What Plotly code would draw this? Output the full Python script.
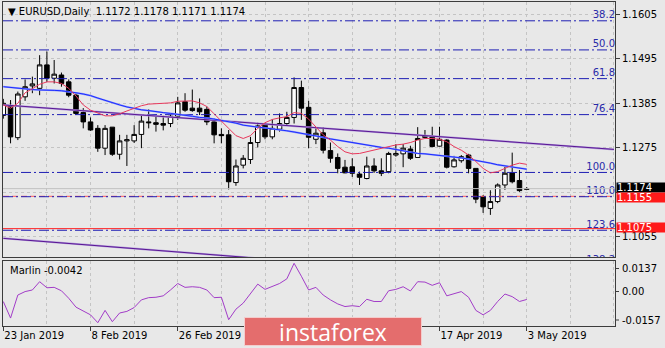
import plotly.graph_objects as go

# ---------------- data ----------------
# EURUSD daily bars, 23 Jan 2019 .. 3 May 2019 (bar index 0..72)
opens = [1.1355, 1.1377, 1.1300, 1.1401, 1.1428, 1.1422, 1.1480, 1.1447, 1.1455, 1.1438,
         1.1405, 1.1362, 1.1339, 1.1323, 1.1274, 1.1326, 1.1259, 1.1292, 1.1292, 1.1308,
         1.1339, 1.1337, 1.1335, 1.1335, 1.1353, 1.1389, 1.1373, 1.1373, 1.1370, 1.1339,
         1.1308, 1.1307, 1.1189, 1.1232, 1.1246, 1.1288, 1.1331, 1.1302, 1.1321, 1.1335,
         1.1350, 1.1424, 1.1375, 1.1296, 1.1312, 1.1268, 1.1251, 1.1227, 1.1228, 1.1210,
         1.1199, 1.1230, 1.1218, 1.1216, 1.1257, 1.1260, 1.1272, 1.1251, 1.1304, 1.1302,
         1.1279, 1.1294, 1.1228, 1.1243, 1.1257, 1.1224, 1.1154, 1.1125, 1.1142, 1.1183,
         1.1213, 1.1194, 1.1172]
highs = [1.1396, 1.1393, 1.1414, 1.1444, 1.1451, 1.1504, 1.1513, 1.1492, 1.1461, 1.1444,
         1.1410, 1.1373, 1.1350, 1.1331, 1.1331, 1.1326, 1.1307, 1.1307, 1.1331, 1.1356,
         1.1370, 1.1354, 1.1354, 1.1360, 1.1401, 1.1410, 1.1419, 1.1397, 1.1377, 1.1348,
         1.1323, 1.1319, 1.1246, 1.1257, 1.1302, 1.1337, 1.1335, 1.1345, 1.1360, 1.1364,
         1.1449, 1.1441, 1.1391, 1.1326, 1.1326, 1.1288, 1.1261, 1.1245, 1.1249, 1.1216,
         1.1253, 1.1249, 1.1249, 1.1265, 1.1284, 1.1284, 1.1280, 1.1326, 1.1319, 1.1327,
         1.1327, 1.1296, 1.1255, 1.1257, 1.1260, 1.1224, 1.1158, 1.1170, 1.1187, 1.1228,
         1.1263, 1.1220, 1.1178]
lows = [1.1347, 1.1286, 1.1294, 1.1391, 1.1410, 1.1405, 1.1438, 1.1434, 1.1426, 1.1400,
        1.1356, 1.1323, 1.1317, 1.1265, 1.1257, 1.1255, 1.1246, 1.1230, 1.1287, 1.1274,
        1.1323, 1.1315, 1.1318, 1.1326, 1.1344, 1.1364, 1.1364, 1.1356, 1.1331, 1.1286,
        1.1286, 1.1172, 1.1181, 1.1224, 1.1235, 1.1276, 1.1296, 1.1296, 1.1315, 1.1331,
        1.1335, 1.1344, 1.1274, 1.1284, 1.1261, 1.1238, 1.1212, 1.1212, 1.1203, 1.1183,
        1.1197, 1.1213, 1.1205, 1.1212, 1.1253, 1.1227, 1.1245, 1.1251, 1.1298, 1.1276,
        1.1278, 1.1224, 1.1226, 1.1238, 1.1212, 1.1138, 1.1114, 1.1109, 1.1138, 1.1171,
        1.1187, 1.1166, 1.1171]
closes = [1.1385, 1.1302, 1.1408, 1.1426, 1.1433, 1.1480, 1.1447, 1.1457, 1.1434, 1.1405,
          1.1360, 1.1339, 1.1319, 1.1274, 1.1323, 1.1259, 1.1292, 1.1295, 1.1308, 1.1341,
          1.1337, 1.1333, 1.1331, 1.1353, 1.1386, 1.1368, 1.1367, 1.1364, 1.1339, 1.1307,
          1.1305, 1.1191, 1.1230, 1.1249, 1.1288, 1.1329, 1.1302, 1.1323, 1.1335, 1.1350,
          1.1424, 1.1373, 1.1301, 1.1311, 1.1269, 1.1249, 1.1224, 1.1213, 1.1212, 1.1202,
          1.1230, 1.1218, 1.1212, 1.1261, 1.1261, 1.1274, 1.1249, 1.1298, 1.1301, 1.1278,
          1.1296, 1.1227, 1.1245, 1.1253, 1.1224, 1.1148, 1.1129, 1.1142, 1.1183, 1.1212,
          1.1191, 1.1169, 1.1174]

# fast (red) and slow (blue) moving averages
fast_ma = [1.1381, 1.1373, 1.1385, 1.1411, 1.1421, 1.1432, 1.1438, 1.1438, 1.1434, 1.1422,
           1.1403, 1.1381, 1.1368, 1.1360, 1.1354, 1.1354, 1.1359, 1.1366, 1.1373, 1.1379,
           1.1383, 1.1384, 1.1385, 1.1386, 1.1390, 1.1391, 1.1391, 1.1386, 1.1377, 1.1359,
           1.1342, 1.1323, 1.1305, 1.1298, 1.1305, 1.1323, 1.1337, 1.1345, 1.1349, 1.1352,
           1.1362, 1.1360, 1.1346, 1.1326, 1.1307, 1.1294, 1.1278, 1.1265, 1.1260, 1.1261,
           1.1265, 1.1269, 1.1274, 1.1278, 1.1282, 1.1284, 1.1288, 1.1294, 1.1298, 1.1298,
           1.1296, 1.1290, 1.1278, 1.1269, 1.1257, 1.1241, 1.1224, 1.1213, 1.1216, 1.1224,
           1.1232, 1.1237, 1.1234]
slow_ma = [1.1426, 1.1424, 1.1422, 1.1420, 1.1419, 1.1418, 1.1418, 1.1417, 1.1416, 1.1414,
           1.1411, 1.1408, 1.1404, 1.1398, 1.1392, 1.1386, 1.1381, 1.1376, 1.1372, 1.1369,
           1.1367, 1.1364, 1.1362, 1.1360, 1.1358, 1.1355, 1.1353, 1.1350, 1.1349, 1.1346,
           1.1343, 1.1340, 1.1336, 1.1331, 1.1328, 1.1326, 1.1324, 1.1322, 1.1320, 1.1317,
           1.1314, 1.1311, 1.1307, 1.1304, 1.1301, 1.1297, 1.1294, 1.1291, 1.1288, 1.1284,
           1.1282, 1.1279, 1.1276, 1.1274, 1.1271, 1.1268, 1.1265, 1.1261, 1.1260, 1.1258,
           1.1256, 1.1255, 1.1253, 1.1250, 1.1247, 1.1244, 1.1240, 1.1237, 1.1233, 1.1230,
           1.1227, 1.1224, 1.1222]

# Marlin oscillator (lower window)
marlin = [-0.0052, -0.0134, -0.0020, -0.0003, 0.0005, 0.0046, 0.0016, 0.0018, 0.0001, -0.0036,
          -0.0080, -0.0101, -0.0118, -0.0157, -0.0096, -0.0152, -0.0109, -0.0101, -0.0082, -0.0044,
          -0.0033, -0.0031, -0.0024, 0.0005, 0.0037, 0.0018, 0.0021, 0.0018, 0.0005, -0.0033,
          -0.0031, -0.0142, -0.0090, -0.0060, -0.0015, 0.0034, 0.0008, 0.0024, 0.0037, 0.0060,
          0.0137, 0.0073, 0.0005, 0.0018, -0.0020, -0.0044, -0.0064, -0.0077, -0.0073, -0.0077,
          -0.0041, -0.0052, -0.0052, 0.0001, 0.0008, 0.0021, 0.0000, 0.0046, 0.0044, 0.0028,
          0.0041, -0.0024, -0.0015, -0.0003, -0.0031, -0.0096, -0.0118, -0.0096, -0.0052, -0.0015,
          -0.0028, -0.0052, -0.0042]

# Fibonacci levels
fib_labels = ["38.2", "50.0", "61.8", "76.4", "100.0", "110.0", "123.6", "138.2"]
fib_prices = [1.1589, 1.1517, 1.1446, 1.1357, 1.1214, 1.1154, 1.1071, 1.0983]

# horizontal price lines (red)
hline_prices = [1.1155, 1.1075]

# trend lines: price at bar 0 and at bar 84
trend_bars = [0, 84]
upper_trend = [1.1381, 1.1271]
lower_trend = [1.1051, 1.0933]

# axis ticks (1.1165 sits under the price tags; labels under the logo are not drawn)
price_ticks = [1.1605, 1.1495, 1.1385, 1.1275, 1.1165, 1.1055]
price_tick_text = ["1.1605", "1.1495", "1.1385", "1.1275", "", "1.1055"]
date_ticks = [0, 12, 24, 60, 72]
date_labels = ["23 Jan 2019", "8 Feb 2019", "26 Feb 2019", "17 Apr 2019", "3 May 2019"]

# ---------------- styling / geometry ----------------
W, H = 665, 348
BG = "#e8e8e8"
GRID = "#c4c4c4"
FRAME = "#3c3c3c"
FIB = "#1e1eb4"
FONT = "DejaVu Sans"
X_LEFT, X_RIGHT = 3, 615
MAIN_TOP, MAIN_BOT = 2, 257
IND_TOP, IND_BOT = 261, 326
XR = [-0.04, 84.14]
MAIN_YR = [1.10049, 1.16355]
IND_YR = [-0.01733, 0.01484]


def py(px):
    """pixel row -> paper y"""
    return (H - px) / H


def px_x(px):
    return px / W


idx = list(range(len(closes)))
fig = go.Figure()

# red horizontal price lines
fig.add_trace(go.Scatter(x=XR, y=[hline_prices[0]] * 2, mode="lines",
                         line=dict(color="#ff5a5a", width=1, dash="6px,3px"),
                         hoverinfo="skip"))
fig.add_trace(go.Scatter(x=XR, y=[hline_prices[1]] * 2, mode="lines",
                         line=dict(color="#ff2020", width=1), hoverinfo="skip"))

# Fibonacci dash-dot lines
for p in fib_prices:
    fig.add_trace(go.Scatter(x=XR, y=[p, p], mode="lines",
                             line=dict(color=FIB, width=1, dash="10px,3px,2px,3px"),
                             hoverinfo="skip"))
fig.add_trace(go.Scatter(x=[XR[1]] * len(fib_prices), y=fib_prices, text=fib_labels,
                         mode="text", textposition="top left", cliponaxis=True,
                         textfont=dict(family=FONT, size=10, color="#2a2aa8"),
                         hoverinfo="skip"))

# bid line
fig.add_trace(go.Scatter(x=XR, y=[closes[-1]] * 2, mode="lines",
                         line=dict(color="#c2c2c2", width=1), hoverinfo="skip"))

# trend lines (lavender halo + dark purple core)
for tr in (upper_trend, lower_trend):
    fig.add_trace(go.Scatter(x=trend_bars, y=tr, mode="lines",
                             line=dict(color="#b49ddc", width=2), hoverinfo="skip"))
    fig.add_trace(go.Scatter(x=trend_bars, y=tr, mode="lines",
                             line=dict(color="#5a1694", width=1), hoverinfo="skip"))

# moving averages
fig.add_trace(go.Scatter(x=idx, y=slow_ma, mode="lines",
                         line=dict(color="#8d98ff", width=1.8), hoverinfo="skip"))
fig.add_trace(go.Scatter(x=idx, y=slow_ma, mode="lines",
                         line=dict(color="#1c2cff", width=1), hoverinfo="skip"))
fig.add_trace(go.Scatter(x=idx, y=fast_ma, mode="lines",
                         line=dict(color="#e8385c", width=1), hoverinfo="skip"))

# candles
fig.add_trace(go.Candlestick(
    x=idx, open=opens, high=highs, low=lows, close=closes,
    increasing=dict(fillcolor="white", line=dict(color="black", width=1)),
    decreasing=dict(fillcolor="black", line=dict(color="black", width=1)),
    whiskerwidth=0, hoverinfo="skip", xaxis="x", yaxis="y"))

# Marlin oscillator
fig.add_trace(go.Scatter(x=idx, y=marlin, mode="lines", xaxis="x2", yaxis="y2",
                         line=dict(color="#a23cc8", width=1), hoverinfo="skip"))

axis_font = dict(family=FONT, size=10, color="black")

fig.update_layout(
    width=W, height=H, margin=dict(l=0, r=0, t=0, b=0),
    paper_bgcolor=BG, plot_bgcolor=BG, showlegend=False,
    boxgap=0.38, boxgroupgap=0,
    xaxis=dict(domain=[px_x(X_LEFT), px_x(X_RIGHT)], range=XR, anchor="y",
               tickmode="linear", tick0=0, dtick=6, showticklabels=False, ticks="",
               showgrid=True, gridcolor=GRID, griddash="3px,3px", gridwidth=1,
               zeroline=False, showline=True, mirror=True, linecolor=FRAME, linewidth=1,
               rangeslider=dict(visible=False), fixedrange=True),
    yaxis=dict(domain=[py(MAIN_BOT), py(MAIN_TOP)], range=MAIN_YR, anchor="x", side="right",
               tickmode="array", tickvals=price_ticks, ticktext=price_tick_text,
               ticks="outside", ticklen=4, tickcolor=FRAME, tickfont=axis_font,
               showgrid=True, gridcolor=GRID, griddash="3px,3px", gridwidth=1,
               zeroline=False, showline=True, mirror=True, linecolor=FRAME, linewidth=1,
               fixedrange=True),
    xaxis2=dict(domain=[px_x(X_LEFT), px_x(X_RIGHT)], range=XR, anchor="y2",
                tickmode="array", tickvals=date_ticks, ticktext=date_labels,
                ticks="outside", ticklen=4, tickcolor=FRAME, tickfont=axis_font,
                ticklabelposition="outside right",
                showgrid=False,
                minor=dict(tickmode="linear", tick0=0, dtick=6, showgrid=True,
                           gridcolor=GRID, griddash="3px,3px", ticks=""),
                zeroline=False, showline=True, mirror=True, linecolor=FRAME, linewidth=1,
                fixedrange=True),
    yaxis2=dict(domain=[py(IND_BOT), py(IND_TOP)], range=IND_YR, anchor="x2", side="right",
                showticklabels=False, ticks="", showgrid=False, zeroline=False,
                showline=True, mirror=True, linecolor=FRAME, linewidth=1, fixedrange=True),
)

annotations = []
shapes = []

# chart header
header = (f"\u25bc EURUSD,Daily\u00a0\u00a0{opens[-1]:.4f} {highs[-1]:.4f} "
          f"{lows[-1]:.4f} {closes[-1]:.4f}")
annotations.append(dict(text=header, xref="paper", yref="paper", x=px_x(6), y=py(11),
                        xanchor="left", yanchor="middle", showarrow=False,
                        font=dict(family=FONT, size=10, color="black")))

# indicator name + value
annotations.append(dict(text=f"Marlin {marlin[-1]:.4f}", xref="paper", yref="paper",
                        x=px_x(8), y=py(270), xanchor="left", yanchor="middle",
                        showarrow=False, font=dict(family=FONT, size=10, color="black")))

# indicator scale labels (max / zero / min)
for txt, row in ((f"{max(marlin):.4f}", 268.5), ("0.00", 291.5), (f"{min(marlin):.4f}", 320)):
    annotations.append(dict(text=txt, xref="paper", yref="paper", x=px_x(620), y=py(row),
                            xanchor="left", yanchor="middle", showarrow=False,
                            font=axis_font))
    shapes.append(dict(type="line", xref="paper", yref="paper", x0=px_x(X_RIGHT),
                       x1=px_x(X_RIGHT + 4), y0=py(row), y1=py(row),
                       line=dict(color=FRAME, width=1)))

# price tags on the right scale (bid tag nudged up, red tags nudged apart)
tags = [(closes[-1], "black", 1.2), (hline_prices[0], "#ff1a1a", -1.2),
        (hline_prices[1], "#ff1a1a", 1.5)]
for price, col, shift in tags:
    annotations.append(dict(text=f"{price:.4f}", xref="paper", yref="y", x=px_x(616),
                            y=price, yshift=shift, xanchor="left", yanchor="middle",
                            showarrow=False, bgcolor=col, width=48, height=9,
                            borderpad=0, align="left",
                            font=dict(family=FONT, size=10, color="white")))

# watermark
annotations.append(dict(text="instaforex", xref="paper", yref="paper", x=px_x(333),
                        y=py(331.5), xanchor="center", yanchor="middle", showarrow=False,
                        bgcolor="#e46d6d", bordercolor="#f4cccc", borderwidth=1,
                        width=176, height=27, borderpad=0,
                        font=dict(family="Open Sans", size=23, color="white")))

fig.update_layout(annotations=annotations, shapes=shapes)

fig.write_html("out.html")
